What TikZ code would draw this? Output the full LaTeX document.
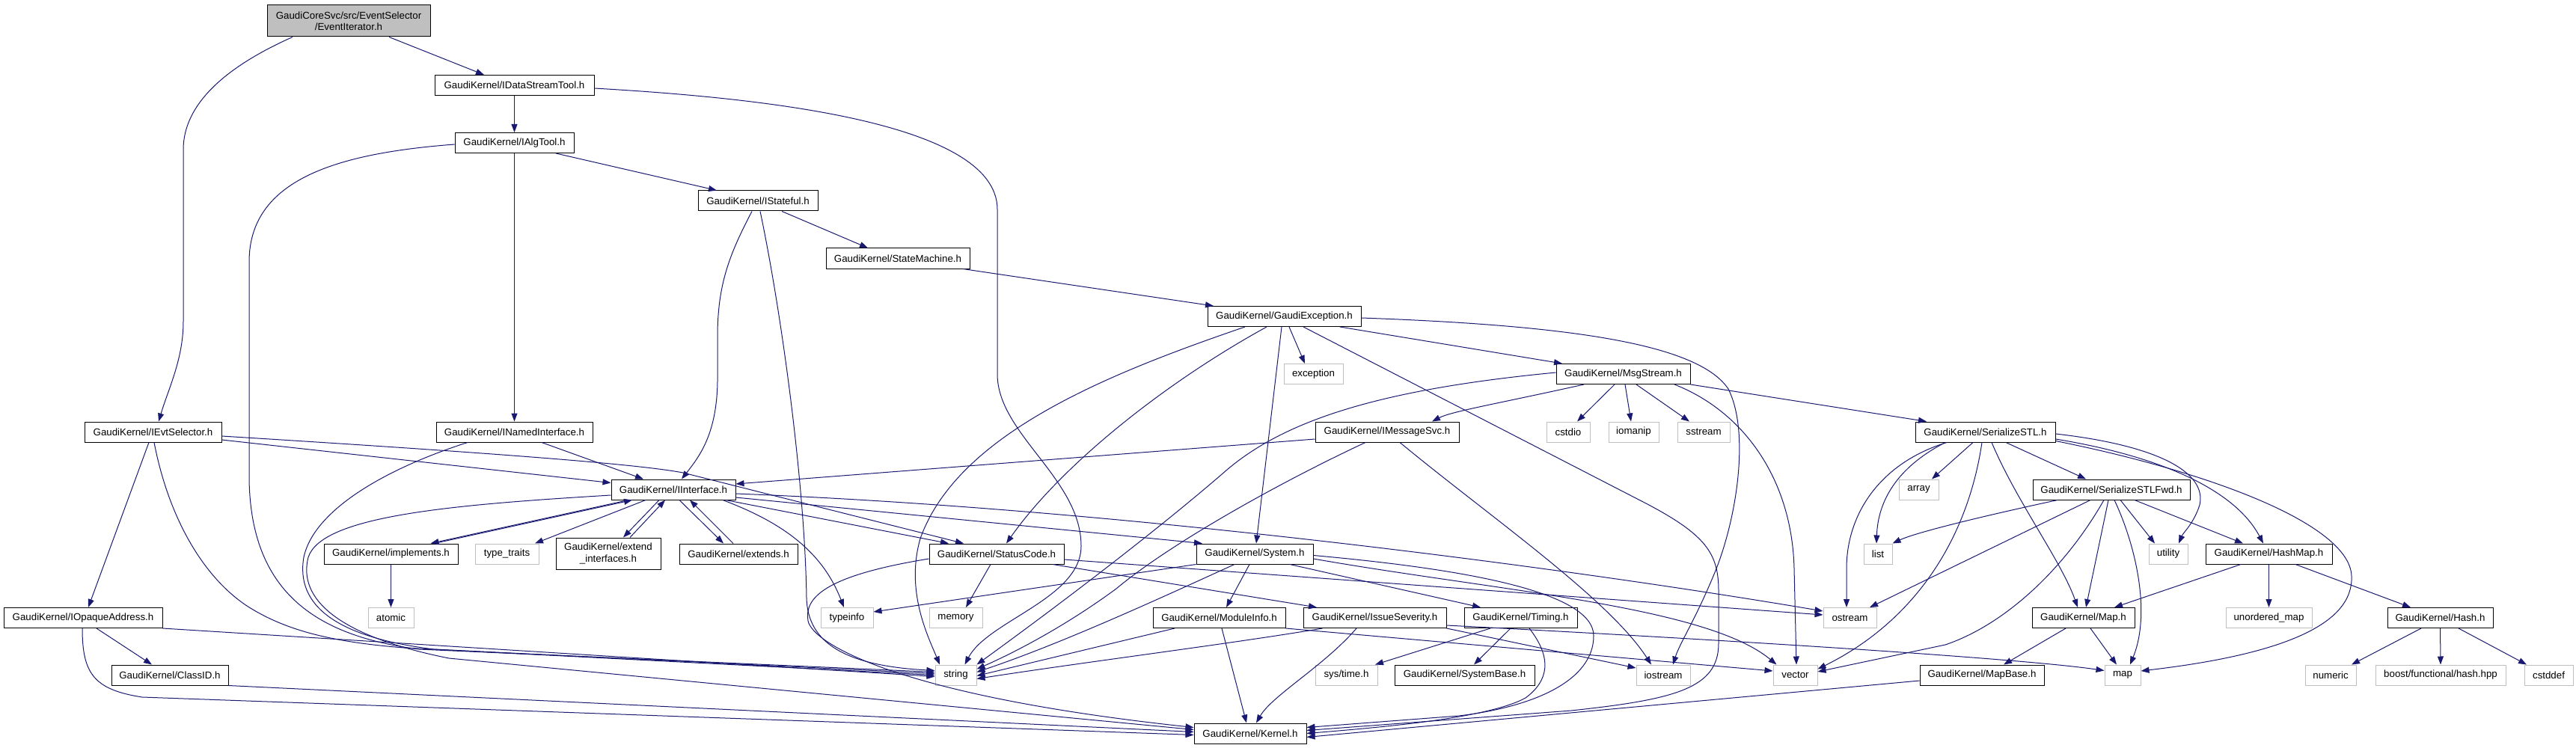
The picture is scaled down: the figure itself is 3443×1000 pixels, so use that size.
\documentclass[tikz,border=0pt]{standalone}
\usepackage{fontspec}
\setmainfont{Liberation Sans}
\usetikzlibrary{arrows.meta}
\definecolor{edgeblue}{HTML}{191970}
\definecolor{sysgray}{HTML}{BFBFBF}
\tikzset{
  nd/.style={draw=black, line width=1pt, fill=white, inner sep=0pt, minimum height=27,
    font=\fontsize{13.3}{15.5}\selectfont, text=black, align=center},
  sysnd/.style={nd, draw=sysgray},
  dep/.style={draw=edgeblue, line width=1pt, -{Triangle[length=11pt,width=8pt]}, fill=none},
}
\begin{document}
\begin{tikzpicture}[x=1pt,y=-1pt]
\useasboundingbox (0,0) rectangle (3443,1000);
% ---------- nodes ----------
\node[nd, fill=sysgray, minimum width=218, minimum height=42] (evtit) at (466,28) {GaudiCoreSvc/src/EventSelector\\/EventIterator.h};
\node[nd, minimum width=213] (dst) at (687.5,114) {GaudiKernel/IDataStreamTool.h};
\node[nd, minimum width=159] (algtool) at (687.5,191) {GaudiKernel/IAlgTool.h};
\node[nd, minimum width=160] (stateful) at (1013,268.5) {GaudiKernel/IStateful.h};
\node[nd, minimum width=192] (statemachine) at (1200,345.5) {GaudiKernel/StateMachine.h};
\node[nd, minimum width=205] (gexc) at (1716.5,423) {GaudiKernel/GaudiException.h};
\node[sysnd, minimum width=79] (exception) at (1755.5,500) {exception};
\node[nd, minimum width=179] (msgstream) at (2169.5,500) {GaudiKernel/MsgStream.h};
% rank 577.5
\node[nd, minimum width=183] (ievtsel) at (204.5,577.5) {GaudiKernel/IEvtSelector.h};
\node[nd, minimum width=209] (inamed) at (687.5,577.5) {GaudiKernel/INamedInterface.h};
\node[nd, minimum width=192] (imsgsvc) at (1854,577.5) {GaudiKernel/IMessageSvc.h};
\node[sysnd, minimum width=58] (cstdio) at (2096,577.5) {cstdio};
\node[sysnd, minimum width=67] (iomanip) at (2183.5,577.5) {iomanip};
\node[sysnd, minimum width=70] (sstream) at (2277,577.5) {sstream};
\node[nd, minimum width=187] (sstl) at (2653.5,577.5) {GaudiKernel/SerializeSTL.h};
% rank 654.5
\node[nd, minimum width=166] (iinterface) at (900,654.5) {GaudiKernel/IInterface.h};
\node[sysnd, minimum width=53] (array) at (2564.5,654.5) {array};
\node[nd, minimum width=210] (sstlfwd) at (2822,654.5) {GaudiKernel/SerializeSTLFwd.h};
% rank 740.5
\node[nd, minimum width=179] (implements) at (522.5,740.5) {GaudiKernel/implements.h};
\node[sysnd, minimum width=85] (typetraits) at (677.5,740.5) {type\_traits};
\node[nd, minimum width=140, minimum height=42] (extint) at (813,740) {GaudiKernel/extend\\\_interfaces.h};
\node[nd, minimum width=158] (extends) at (987,740.5) {GaudiKernel/extends.h};
\node[nd, minimum width=180] (statuscode) at (1332,740.5) {GaudiKernel/StatusCode.h};
\node[nd, minimum width=156] (system) at (1677,740.5) {GaudiKernel/System.h};
\node[sysnd, minimum width=38] (list) at (2510,740.5) {list};
\node[sysnd, minimum width=52] (utility) at (2898,740.5) {utility};
\node[nd, minimum width=169] (hashmap) at (3032.5,740.5) {GaudiKernel/HashMap.h};
% rank 826
\node[sysnd, minimum width=61] (atomic) at (522.5,826) {atomic};
\node[nd, minimum width=212] (iopaque) at (111,826) {GaudiKernel/IOpaqueAddress.h};
\node[sysnd, minimum width=70] (typeinfo) at (1132,826) {typeinfo};
\node[sysnd, minimum width=71] (memory) at (1277.5,826) {memory};
\node[nd, minimum width=177] (moduleinfo) at (1629.5,826) {GaudiKernel/ModuleInfo.h};
\node[nd, minimum width=191] (issuesev) at (1837.5,826) {GaudiKernel/IssueSeverity.h};
\node[nd, minimum width=151] (timing) at (2032.5,826) {GaudiKernel/Timing.h};
\node[sysnd, minimum width=71] (ostream) at (2472.5,826) {ostream};
\node[nd, minimum width=137] (mapH) at (2784.5,826) {GaudiKernel/Map.h};
\node[sysnd, minimum width=115] (umap) at (3032.5,826) {unordered\_map};
\node[nd, minimum width=141] (hash) at (3261.5,826) {GaudiKernel/Hash.h};
% rank 902.5
\node[nd, minimum width=156] (classid) at (227,902.5) {GaudiKernel/ClassID.h};
\node[sysnd, minimum width=55] (string) at (1277.5,902.5) {string};
\node[sysnd, minimum width=83] (systime) at (1799.5,902.5) {sys/time.h};
\node[nd, minimum width=187] (systembase) at (1957.5,902.5) {GaudiKernel/SystemBase.h};
\node[sysnd, minimum width=72] (iostream) at (2223,902.5) {iostream};
\node[sysnd, minimum width=59] (vector) at (2399.5,902.5) {vector};
\node[nd, minimum width=166] (mapbase) at (2649,902.5) {GaudiKernel/MapBase.h};
\node[sysnd, minimum width=48] (stdmap) at (2837,902.5) {map};
\node[sysnd, minimum width=68] (numeric) at (3115,902.5) {numeric};
\node[sysnd, minimum width=174] (boost) at (3262,902.5) {boost/functional/hash.hpp};
\node[sysnd, minimum width=65] (cstddef) at (3406.5,902.5) {cstddef};
% rank 980.5
\node[nd, minimum width=150] (kernel) at (1671,980.5) {GaudiKernel/Kernel.h};

% ---------- edges ----------
\draw[dep] ([xshift=54]evtit.south) -- ([xshift=-40.5]dst.north);
\draw[dep] ([xshift=-75]evtit.south) .. controls (300,90) and (245,140) .. (245,200) -- (245,430) .. controls (245,480) and (225,520) .. ([xshift=7.5]ievtsel.north);
\draw[dep] (dst.south) -- (algtool.north);
\draw[dep] ([yshift=-4]dst.east) .. controls (1000,130) and (1333,160) .. (1333,280) -- (1333,500) .. controls (1333,580) and (1445,640) .. (1445,730) .. controls (1445,800) and (1320,830) .. ([xshift=12]string.north);
\draw[dep] (algtool.south) -- (inamed.north);
\draw[dep] ([xshift=55.5]algtool.south) -- ([xshift=-55]stateful.north);
\draw[dep] ([yshift=-2]algtool.west) .. controls (450,205) and (333,240) .. (333,350) -- (333,640) .. controls (335,790) and (420,850) .. (560,868) -- ([yshift=4]string.west);
\draw[dep] ([xshift=-8]stateful.south) .. controls (975,340) and (959,380) .. (959,450) -- (959,510) .. controls (958,580) and (935,610) .. ([xshift=11]iinterface.north);
\draw[dep] ([xshift=32]stateful.south) -- ([xshift=-40]statemachine.north);
\draw[dep] ([xshift=3]stateful.south) .. controls (1045,420) and (1076,650) .. (1078,800) .. controls (1080,860) and (1130,890) .. ([yshift=6]string.west);
\draw[dep] ([xshift=87]statemachine.south) -- ([xshift=-94.5]gexc.north);
% GaudiException
\draw[dep] ([xshift=6.5]gexc.south) -- ([xshift=-11.5]exception.north);
\draw[dep] ([xshift=-3.5]gexc.south) -- ([xshift=2]system.north);
\draw[dep] ([xshift=-23.5]gexc.south) .. controls (1560,510) and (1420,620) .. ([xshift=13]statuscode.north);
\draw[dep] ([xshift=-52.5]gexc.south) .. controls (1480,500) and (1280,580) .. (1230,720) .. controls (1210,790) and (1240,850) .. ([xshift=-21.5]string.north);
\draw[dep] ([xshift=74.5]gexc.south) -- ([xshift=-81.5]msgstream.north);
\draw[dep] ([yshift=-2]gexc.east) .. controls (2100,435) and (2270,460) .. (2310,520) .. controls (2340,580) and (2320,700) .. (2290,770) .. controls (2265,830) and (2245,860) .. ([xshift=13]iostream.north);
\draw[dep] ([xshift=25.5]gexc.south) -- (2200,673) .. controls (2280,715) and (2297,740) .. (2297,790) -- (2297,860) .. controls (2297,920) and (2240,935) .. (2100,950) -- ([yshift=4]kernel.east);
% MsgStream
\draw[dep] ([xshift=-52.5]msgstream.south) .. controls (2000,540) and (1940,550) .. ([xshift=60]imsgsvc.north);
\draw[dep] ([yshift=2]msgstream.west) .. controls (1850,520) and (1720,560) .. (1640,628) .. controls (1540,715) and (1400,820) .. (string.north east);
\draw[dep] ([xshift=-11.5]msgstream.south) -- ([xshift=12]cstdio.north);
\draw[dep] ([xshift=2.5]msgstream.south) -- ([xshift=-3.5]iomanip.north);
\draw[dep] ([xshift=17.5]msgstream.south) -- ([xshift=-19]sstream.north);
\draw[dep] (msgstream.south east) -- ([xshift=-78.5]sstl.north);
\draw[dep] ([xshift=68.5]msgstream.south) .. controls (2330,550) and (2395,640) .. (2398,760) -- ([xshift=1.5]vector.north);
% IMessageSvc
\draw[dep] ([yshift=-9.5]imsgsvc.west) -- ([yshift=7.5]iinterface.east);
\draw[dep] ([xshift=-29]imsgsvc.south) .. controls (1700,650) and (1560,730) .. (1492,787) .. controls (1420,840) and (1350,875) .. ([yshift=8]string.east);
\draw[dep] ([xshift=17]imsgsvc.south) .. controls (1990,690) and (2150,800) .. ([xshift=-16]iostream.north);
% IInterface
\draw[dep] ([xshift=-60]iinterface.south) -- ([xshift=53]implements.north);
\draw[dep] ([xshift=58]implements.north) -- ([xshift=-55]iinterface.south);
\draw[dep] ([xshift=-37]iinterface.south) -- ([xshift=37.5]typetraits.north);
\draw[dep] ([xshift=-19]iinterface.south) -- ([xshift=20]extint.north);
\draw[dep] ([xshift=29]extint.north) -- ([xshift=-11]iinterface.south);
\draw[dep] ([xshift=8]iinterface.south) -- ([xshift=-20]extends.north);
\draw[dep] ([xshift=-7]extends.north) -- ([xshift=22]iinterface.south);
\draw[dep] ([xshift=66]iinterface.south) .. controls (1050,700) and (1100,740) .. ([xshift=-4]typeinfo.north);
\draw[dep] ([xshift=70]iinterface.south) -- ([xshift=-64]statuscode.north);
\draw[dep] ([yshift=-10.5]iinterface.east) -- ([xshift=-70]system.north);
\draw[dep] ([yshift=-5.5]iinterface.east) .. controls (1500,680) and (2100,760) .. ([yshift=9]ostream.west);
\draw[dep] ([yshift=-7.5]iinterface.west) .. controls (600,675) and (430,690) .. (412,745) .. controls (398,800) and (450,850) .. (600,880) -- ([yshift=5]kernel.west);
% INamedInterface
\draw[dep] ([xshift=36.5]inamed.south) -- ([xshift=-40]iinterface.north);
\draw[dep] ([xshift=-62.5]inamed.south) .. controls (520,625) and (420,680) .. (406,745) .. controls (395,810) and (450,852) .. (580,868) -- ([yshift=2]string.west);
% IEvtSelector
\draw[dep] ([yshift=-10.5]ievtsel.east) -- ([yshift=9]iinterface.west);
\draw[dep] ([yshift=-5.5]ievtsel.east) .. controls (650,605) and (850,620) .. (913,632) -- ([xshift=-44]statuscode.north);
\draw[dep] ([xshift=-5.5]ievtsel.south) -- ([xshift=7]iopaque.north);
\draw[dep] ([xshift=1.5]ievtsel.south) .. controls (225,690) and (270,770) .. (330,810) .. controls (380,842) and (440,858) .. (540,866) -- (string.west);
% implements, IOpaqueAddress, ClassID
\draw[dep] (implements.south) -- (atomic.north);
\draw[dep] ([xshift=18]iopaque.south) -- ([xshift=-24]classid.north);
\draw[dep] (iopaque.south east) -- ([yshift=-2]string.west);
\draw[dep] ([xshift=-1]iopaque.south) .. controls (110,900) and (125,922) .. (190,932) -- ([yshift=-2]kernel.west);
\draw[dep] (classid.south east) -- ([yshift=2]kernel.west);
% StatusCode
\draw[dep] ([xshift=-8]statuscode.south) -- ([xshift=13.5]memory.north);
\draw[dep] ([xshift=75]statuscode.south) -- ([xshift=-77.5]issuesev.north);
\draw[dep] ([yshift=-7.5]statuscode.east) -- ([yshift=4]ostream.west);
\draw[dep] ([yshift=-6.5]statuscode.west) .. controls (1100,770) and (1075,800) .. (1080,830) .. controls (1086,860) and (1200,930) .. ([yshift=8]kernel.west);
% System
\draw[dep] ([xshift=-7]system.south) -- ([xshift=9.5]moduleinfo.north);
\draw[dep] ([xshift=47]system.south) -- ([xshift=-53.5]timing.north);
\draw[dep] (system.south west) -- ([yshift=8]typeinfo.east);
\draw[dep] ([xshift=-27]system.south) .. controls (1550,800) and (1420,860) .. ([yshift=4]string.east);
\draw[dep] ([yshift=-6.5]system.east) .. controls (2000,790) and (2280,810) .. ([xshift=-25]vector.north);
\draw[dep] ([yshift=-2]system.east) .. controls (1950,760) and (2130,790) .. (2130,850) .. controls (2130,910) and (2050,945) .. (1950,957) -- ([yshift=8]kernel.east);
% ModuleInfo, IssueSeverity
\draw[dep] ([xshift=-59.5]moduleinfo.south) -- ([yshift=-1]string.east);
\draw[dep] ([xshift=3.5]moduleinfo.south) -- ([xshift=-5]kernel.north);
\draw[dep] (moduleinfo.south east) -- ([yshift=5.5]vector.west);
\draw[dep] ([xshift=-70]issuesev.south) .. controls (1650,860) and (1450,885) .. ([yshift=-5]string.east);
\draw[dep] ([xshift=-24.5]issuesev.south) .. controls (1770,890) and (1700,930) .. ([xshift=8]kernel.north);
\draw[dep] (issuesev.south east) -- ([yshift=9.5]iostream.west);
\draw[dep] ([yshift=-10]issuesev.east) .. controls (2300,855) and (2700,880) .. ([yshift=6]stdmap.west);
% Timing, MapBase
\draw[dep] ([xshift=-40.5]timing.south) -- ([xshift=38.5]systime.north);
\draw[dep] ([xshift=-13.5]timing.south) -- ([xshift=12.5]systembase.north);
\draw[dep] ([xshift=11.5]timing.south) .. controls (2075,880) and (2070,910) .. (2039,933) .. controls (1990,960) and (1850,972) .. ([yshift=0]kernel.east);
\draw[dep] ([yshift=-7.5]mapbase.west) -- ([yshift=-5]kernel.east);
% SerializeSTL
\draw[dep] ([xshift=27.5]sstl.south) -- ([xshift=-34]sstlfwd.north);
\draw[dep] ([xshift=-16.5]sstl.south) -- ([xshift=17.5]array.north);
\draw[dep] ([xshift=-51.5]sstl.south) .. controls (2510,620) and (2468,690) .. (2468,760) -- ([xshift=-4.5]ostream.north);
\draw[dep] ([xshift=-53.5]sstl.south) .. controls (2535,625) and (2510,670) .. ([xshift=-2]list.north);
\draw[dep] ([xshift=-4.5]sstl.south) .. controls (2630,720) and (2560,830) .. ([yshift=8]vector.east);
\draw[dep] ([xshift=8.5]sstl.south) .. controls (2695,670) and (2755,750) .. ([xshift=-7.5]mapH.north);
\draw[dep] ([yshift=-2.5]sstl.east) .. controls (2880,595) and (2950,630) .. (2940,675) .. controls (2932,700) and (2918,712) .. ([xshift=14]utility.north);
\draw[dep] ([yshift=-9.5]sstl.east) .. controls (2900,612) and (2990,660) .. ([xshift=-7.5]hashmap.north);
\draw[dep] ([yshift=-12]sstl.east) .. controls (2950,630) and (3140,700) .. (3143,770) .. controls (3146,835) and (3050,875) .. ([yshift=5.5]stdmap.east);
% SerializeSTLFwd
\draw[dep] ([xshift=-72]sstlfwd.south) .. controls (2650,690) and (2560,712) .. (list.north east);
\draw[dep] ([xshift=-28]sstlfwd.south) -- ([xshift=26.5]ostream.north);
\draw[dep] ([xshift=-10]sstlfwd.south) .. controls (2760,760) and (2680,835) .. (2600,862) -- ([yshift=4.5]vector.east);
\draw[dep] ([xshift=-4]sstlfwd.south) -- ([xshift=3.5]mapH.north);
\draw[dep] ([xshift=4]sstlfwd.south) .. controls (2855,730) and (2875,820) .. ([xshift=10]stdmap.north);
\draw[dep] ([xshift=12]sstlfwd.south) -- ([xshift=-18]utility.north);
\draw[dep] ([xshift=31]sstlfwd.south) -- ([xshift=-34.5]hashmap.north);
% HashMap, Map, Hash
\draw[dep] ([xshift=-37.5]hashmap.south) -- ([xshift=41.5]mapH.north);
\draw[dep] (hashmap.south) -- (umap.north);
\draw[dep] ([xshift=35.5]hashmap.south) -- ([xshift=-39.5]hash.north);
\draw[dep] ([xshift=-23.5]mapH.south) -- ([xshift=29]mapbase.north);
\draw[dep] ([xshift=9.5]mapH.south) -- ([xshift=-8]stdmap.north);
\draw[dep] ([xshift=-25.5]hash.south) -- ([xshift=28]numeric.north);
\draw[dep] (hash.south) -- (boost.north);
\draw[dep] ([xshift=24.5]hash.south) -- ([xshift=-29.5]cstddef.north);
\end{tikzpicture}
\end{document}
